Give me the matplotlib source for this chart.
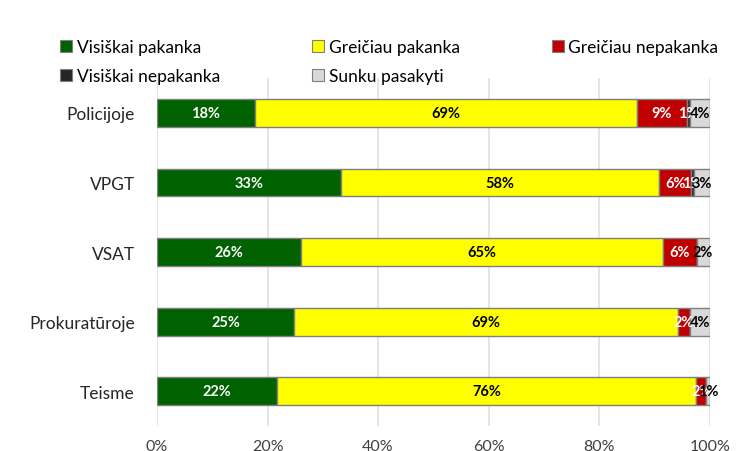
import matplotlib
matplotlib.use("Agg")
import matplotlib.pyplot as plt
from matplotlib.patches import Patch
import numpy as np

plt.rcParams["font.family"] = ["Lato", "DejaVu Sans"]

categories = ["Policijoje", "VPGT", "VSAT", "Prokuratūroje", "Teisme"]
series_names = ["Visiškai pakanka", "Greičiau pakanka", "Greičiau nepakanka",
                "Visiškai nepakanka", "Sunku pasakyti"]
visiskai_pakanka = [17.7, 33.3, 26.1, 24.8, 21.8]
greiciau_pakanka = [69.2, 57.6, 65.4, 69.4, 75.7]
greiciau_nepakanka = [8.9, 5.7, 6.1, 2.2, 1.9]
visiskai_nepakanka = [0.6, 0.6, 0.0, 0.0, 0.0]
sunku_pasakyti = [3.6, 2.8, 2.4, 3.6, 0.6]
xticks = [0, 20, 40, 60, 80, 100]

colors = ["#006100", "#ffff00", "#c00000", "#262626", "#d9d9d9"]
label_colors = ["white", "black", "white", "white", "black"]

data = [visiskai_pakanka, greiciau_pakanka, greiciau_nepakanka,
        visiskai_nepakanka, sunku_pasakyti]

fig = plt.figure(figsize=(7.44, 4.52), dpi=100)
ax = fig.add_axes([0.211, 0.055, 0.743, 0.770])

y = np.arange(len(categories))
left = np.zeros(len(categories))
for vals, col, lc in zip(data, colors, label_colors):
    vals = np.array(vals)
    ax.barh(y, vals, left=left, height=0.4, color=col, edgecolor="#7f7f7f",
            linewidth=1.0, zorder=3)
    for yi, l, v in zip(y, left, vals):
        if v >= 0.3:
            ax.text(l + v / 2, yi, f"{v:.0f}%", ha="center", va="center",
                    color=lc, fontsize=10.5, fontweight="bold", zorder=4)
    left += vals

ax.set_xlim(0, 100)
ax.set_ylim(4.5, -0.5)
ax.set_yticks(y)
ax.set_yticklabels(categories, fontsize=12.5, color="#262626")
ax.set_xticks(xticks)
ax.set_xticklabels([f"{t}%" for t in xticks], fontsize=11.5, color="#404040")
ax.tick_params(axis="both", length=0)
ax.tick_params(axis="y", pad=16)
ax.tick_params(axis="x", pad=9)
ax.grid(axis="x", color="#e0e0e0", linewidth=1.2, zorder=0)
for s in ax.spines.values():
    s.set_visible(False)

handles = [Patch(facecolor=c, edgecolor="#7f7f7f", linewidth=0.8) for c in colors]
order = [0, 3, 1, 4, 2]
fig.legend([handles[i] for i in order], [series_names[i] for i in order],
           ncol=3, loc="upper left", bbox_to_anchor=(0.081, 0.912),
           frameon=False, fontsize=12.5, handlelength=0.7, handleheight=0.7,
           handletextpad=0.25, columnspacing=5.3, labelspacing=0.78,
           borderpad=0, borderaxespad=0)

fig.savefig("out.png", dpi=100)
